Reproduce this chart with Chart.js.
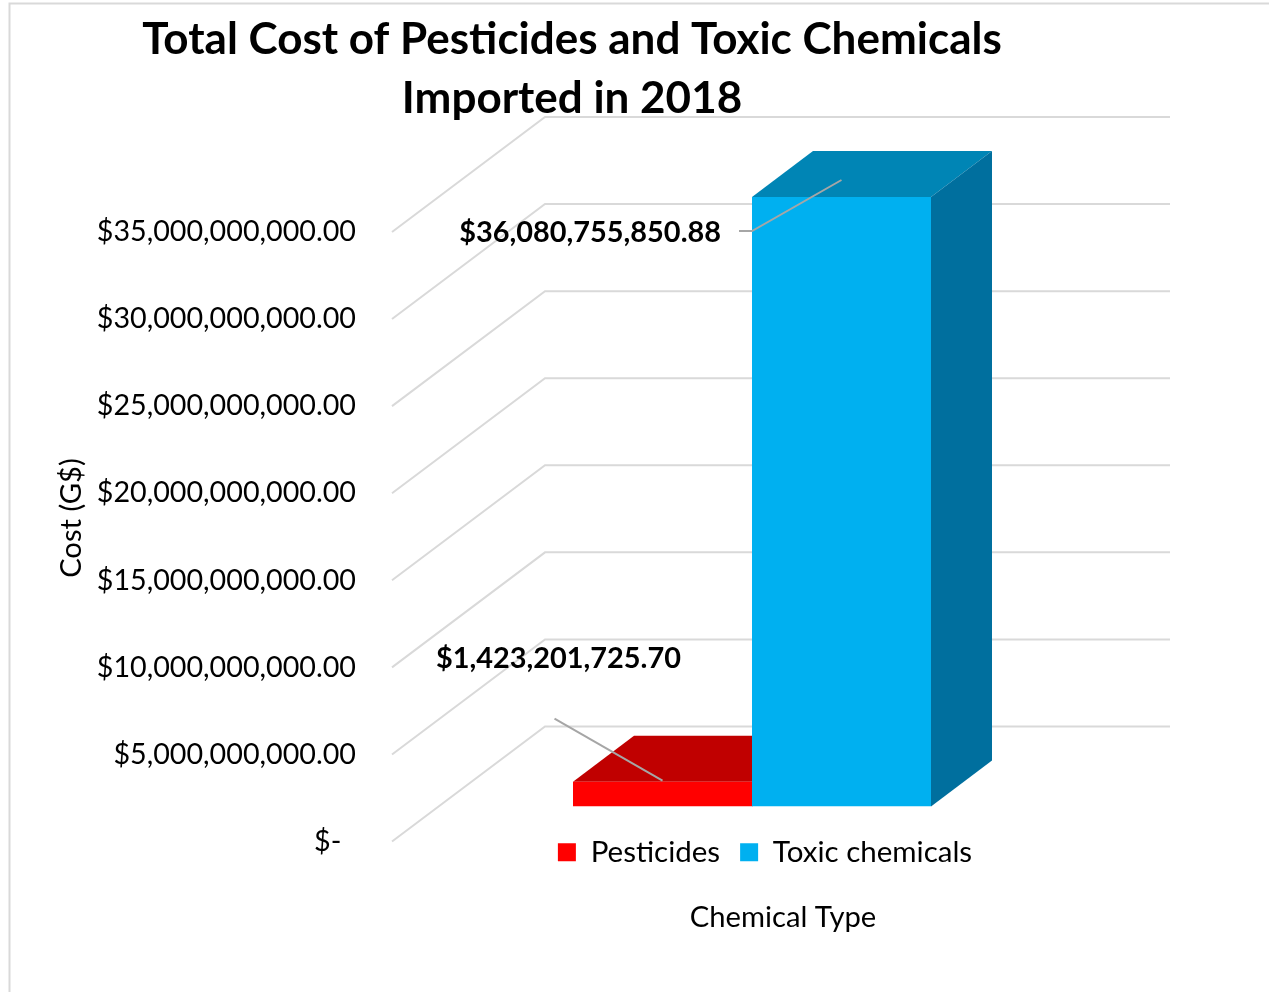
<!DOCTYPE html>
<html><head><meta charset="utf-8">
<style>html,body{margin:0;padding:0;background:#fff}canvas{display:block}</style>
<script src="https://cdn.jsdelivr.net/npm/chart.js@4/dist/chart.umd.min.js"></script>
</head><body>
<canvas id="c" width="1269" height="992"></canvas>
<script>
const categories = ['Chemical Type'];
const seriesNames = ['Pesticides', 'Toxic chemicals'];
const pesticides = [1423201725.70];
const toxicChemicals = [36080755850.88];
const axisMax = 35000000000;
const axisStep = 5000000000;
const titleLines = ['Total Cost of Pesticides and Toxic Chemicals', 'Imported in 2018'];
const frontColors = ['#FF0000', '#00B0F0'];
const topColors = ['#C00000', '#0085B5'];
const sideColors = ['#A00000', '#006F9E'];

const FONT = 'Lato, Carlito, Calibri, sans-serif';
const money = v => '$' + Number(v).toLocaleString('en-US', {minimumFractionDigits: 2, maximumFractionDigits: 2});
const BAR_DX = -31, BAR_DY = -35, DEPTH_X = 61, DEPTH_Y = -46, WALL_X = 153, WALL_Y = -115, WALL_INSET = 4;
const LEGEND_PAD = 20;

function poly(ctx, pts, color) {
  ctx.fillStyle = color;
  ctx.beginPath();
  pts.forEach((p, i) => i ? ctx.lineTo(p[0], p[1]) : ctx.moveTo(p[0], p[1]));
  ctx.closePath();
  ctx.fill();
}

const scene = {
  id: 'scene',
  afterLayout(chart) {
    const t = chart.titleBlock; t.left = 0; t.right = 1144;
    const l = chart.legend; l.left = 0; l.right = 1530; l.top = chart.chartArea.bottom - 4 - LEGEND_PAD; l.bottom = l.top + l.height;
  },
  beforeDraw(chart) {
    const c = chart.ctx;
    c.save();
    c.strokeStyle = '#d9d9d9'; c.lineWidth = 2;
    c.beginPath(); c.moveTo(1269, 3.5); c.lineTo(9.5, 3.5); c.lineTo(9.5, 992); c.stroke();
    c.restore();
  },
  beforeDatasetsDraw(chart) {
    const c = chart.ctx, y = chart.scales.y, a = chart.chartArea;
    c.save();
    c.strokeStyle = '#d9d9d9'; c.lineWidth = 2; c.lineJoin = 'miter';
    y.ticks.forEach(t => {
      const py = y.getPixelForValue(t.value);
      c.beginPath();
      c.moveTo(a.left, py);
      c.lineTo(a.left + WALL_X, py + WALL_Y);
      c.lineTo(a.right - WALL_INSET, py + WALL_Y);
      c.stroke();
    });
    chart.data.datasets.forEach((ds, i) => {
      const el = chart.getDatasetMeta(i).data[0];
      const x0 = el.x - el.width / 2 + BAR_DX, x1 = el.x + el.width / 2 + BAR_DX;
      const yt = Math.max(el.y, a.top) + BAR_DY, yb = el.base + BAR_DY;
      poly(c, [[x0, yt], [x1, yt], [x1 + DEPTH_X, yt + DEPTH_Y], [x0 + DEPTH_X, yt + DEPTH_Y]], topColors[i]);
      poly(c, [[x1, yt], [x1 + DEPTH_X, yt + DEPTH_Y], [x1 + DEPTH_X, yb + DEPTH_Y], [x1, yb]], sideColors[i]);
    });
    c.restore();
    c.save();
    c.translate(BAR_DX, BAR_DY);
  },
  afterDatasetsDraw(chart) {
    const c = chart.ctx, a = chart.chartArea;
    c.restore();
    const red = chart.getDatasetMeta(0).data[0], blue = chart.getDatasetMeta(1).data[0];
    const rx = red.x + BAR_DX, ry = red.y + BAR_DY;
    const bx = blue.x + BAR_DX, bLeft = blue.x - blue.width / 2 + BAR_DX, by = Math.max(blue.y, a.top) + BAR_DY;
    c.save();
    c.strokeStyle = '#a6a6a6'; c.lineWidth = 2;
    c.beginPath(); c.moveTo(rx, ry - 1); c.lineTo(rx - 108, ry - 63); c.stroke();
    c.beginPath(); c.moveTo(bx, by - 17); c.lineTo(bLeft, by + 34); c.lineTo(bLeft - 13, by + 34); c.stroke();
    c.fillStyle = '#000'; c.font = 'bold 28.9px ' + FONT; c.textBaseline = 'middle';
    c.textAlign = 'right'; c.fillText(money(toxicChemicals[0]), bLeft - 31, by + 36);
    c.textAlign = 'center'; c.fillText(money(pesticides[0]), rx - 104, ry - 123);
    c.restore();
  }
};

new Chart(document.getElementById('c'), {
  type: 'bar',
  data: {
    labels: categories,
    datasets: [
      {label: seriesNames[0], data: pesticides, backgroundColor: frontColors[0], borderWidth: 0, clip: 0},
      {label: seriesNames[1], data: toxicChemicals, backgroundColor: frontColors[1], borderWidth: 0, clip: 0}
    ]
  },
  plugins: [scene],
  options: {
    responsive: false,
    animation: false,
    events: [],
    layout: {padding: {left: 54, right: 95, top: 0, bottom: 0}},
    datasets: {bar: {barPercentage: 1, categoryPercentage: 358 / 782}},
    plugins: {
      tooltip: {enabled: false},
      title: {
        display: true, text: titleLines, color: '#000',
        font: {family: FONT, size: 44, weight: 'bold', lineHeight: 59 / 44},
        padding: {top: 10.5, bottom: 103.5}
      },
      legend: {
        display: true, position: 'bottom',
        labels: {color: '#000', boxWidth: 18, boxHeight: 18, padding: LEGEND_PAD, font: {family: FONT, size: 29.5}}
      }
    },
    scales: {
      x: {
        weight: 2000,
        grid: {display: false}, border: {display: false},
        ticks: {display: false},
        title: {display: true, text: 'Chemical Type', color: '#000', font: {family: FONT, size: 29.2}, padding: {top: 0, bottom: 57}},
        afterFit(s) { s.height = 91; }
      },
      y: {
        min: 0, max: axisMax,
        grid: {display: false, drawTicks: false}, border: {display: false},
        ticks: {
          stepSize: axisStep, padding: 36, color: '#000',
          font: {family: FONT, size: 28.7},
          callback: v => v === 0 ? '$-  ' : money(v)
        },
        title: {display: true, text: '     Cost (G$)', color: '#000', font: {family: FONT, size: 29.2}, padding: {top: 0, bottom: 0}},
        afterFit(s) { s.width = 338; }
      }
    }
  }
});
</script>
</body></html>
